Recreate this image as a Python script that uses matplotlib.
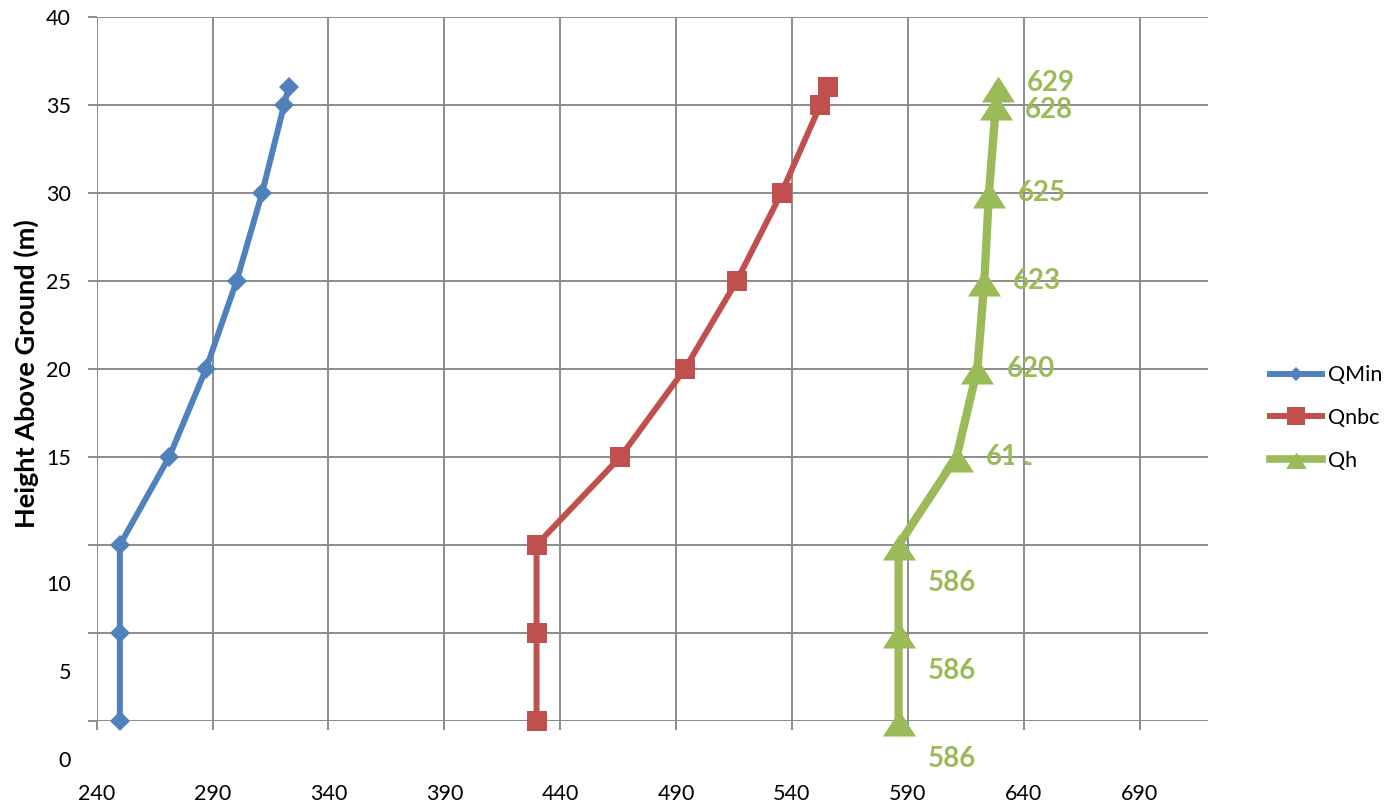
import matplotlib
matplotlib.use('Agg')
import matplotlib.pyplot as plt
import matplotlib.transforms as mtransforms
from matplotlib.lines import Line2D
from matplotlib.path import Path

plt.rcParams['font.family'] = ['Lato', 'DejaVu Sans']

# heights of the measurement levels (m)
heights = [0, 5, 10, 15, 20, 25, 30, 35, 36]

# values per level for each series
q_min = [250, 250, 250, 271.3, 287.2, 300.4, 311.4, 320.9, 322.9]
q_nbc = [429.8, 429.8, 429.8, 466, 493.8, 516.2, 535.5, 552.3, 555.6]
q_h = [586, 586, 586, 611, 620, 623, 625, 628, 629]

series_names = ['QMin', 'Qnbc', 'Qh']

x_ticks = [240, 290, 340, 390, 440, 490, 540, 590, 640, 690]
y_ticks = [0, 5, 10, 15, 20, 25, 30, 35, 40]

blue = '#4F81BD'
red = '#C0504D'
green = '#9BBB59'
grid_c = '#8C8C8C'

# triangle with its base pushed a bit below the point
tri = Path([(-16.5, -15), (16.5, -15), (0, 11), (-16.5, -15)], closed=True)

fig = plt.figure(figsize=(13.97, 8.07), dpi=100)
ax = fig.add_axes([0.0692, 0.1066, 0.7955, 0.8727])

ax.plot(q_min, heights, color=blue, lw=4.3, marker='D', ms=10.5, mew=0,
        clip_on=False, zorder=3)
ax.plot(q_nbc, heights, color=red, lw=4.3, marker='s', ms=14.4, mew=0,
        clip_on=False, zorder=3)
ax.plot(q_h, heights, color=green, lw=6, marker=tri, ms=23.8, mew=0,
        clip_on=False, zorder=3)

ax.set_xlim(240, 719.5)
ax.set_ylim(0, 40)
ax.set_xticks(x_ticks)
ax.set_yticks(y_ticks)
for s in ax.spines.values():
    s.set_visible(False)
ax.grid(True, color=grid_c, lw=1.4)
ax.set_axisbelow(True)
ax.tick_params(axis='both', length=6.5, width=1.4, color=grid_c,
               labelsize=15.5, labelcolor='black')
ax.tick_params(axis='x', pad=39)
ax.tick_params(axis='y', pad=12)

# the lower tick labels sit lower than their gridlines
low_shift = mtransforms.ScaledTranslation(0, -27.4 / 72, fig.dpi_scale_trans)
for val, lab in zip(y_ticks, ax.get_yticklabels()):
    if val <= 10:
        lab.set_transform(lab.get_transform() + low_shift)

ax.set_ylabel('Height Above Ground (m)', fontsize=19.5, fontweight='bold')
ax.yaxis.set_label_coords(-0.0515, 0.4927)

# value labels on the Qh points
label_dy = [-27.4, -27.4, -27.4, 0, 0, 0, 0, -3.6, 3]
for v, h, dy in zip(q_h, heights, label_dy):
    kw = dict(xytext=(20.9, dy), textcoords='offset points', ha='left', va='center',
              fontsize=20, fontweight='bold', color=green, annotation_clip=False,
              zorder=4)
    if v != 611:
        ax.annotate(str(v), (v, h), **kw)
        continue
    # the last digit of this one is mostly hidden, only its foot shows
    left_part = ax.annotate(str(v), (v, h), **kw)
    left_part.set_clip_box(mtransforms.TransformedBbox(
        mtransforms.Bbox([[600, 10], [635.8, 20]]), ax.transData))
    foot = ax.annotate(str(v), (v, h), **kw)
    foot.set_clip_box(mtransforms.TransformedBbox(
        mtransforms.Bbox([[640.4, 10], [700, 14.75]]), ax.transData))

handles = [
    Line2D([], [], color=blue, lw=4.3, marker='D', ms=7, mew=0),
    Line2D([], [], color=red, lw=4.3, marker='s', ms=12.5, mew=0),
    Line2D([], [], color=green, lw=5.5, marker=tri, ms=15, mew=0),
]
ax.legend(handles, series_names, loc='center left',
          bbox_to_anchor=(1270 / 1397, 1 - 418 / 807), bbox_transform=fig.transFigure,
          frameon=False, borderpad=0, borderaxespad=0, handlelength=2.41,
          handletextpad=0.28, labelspacing=1.05, fontsize=15.5)

fig.savefig('out.png', dpi=100)
